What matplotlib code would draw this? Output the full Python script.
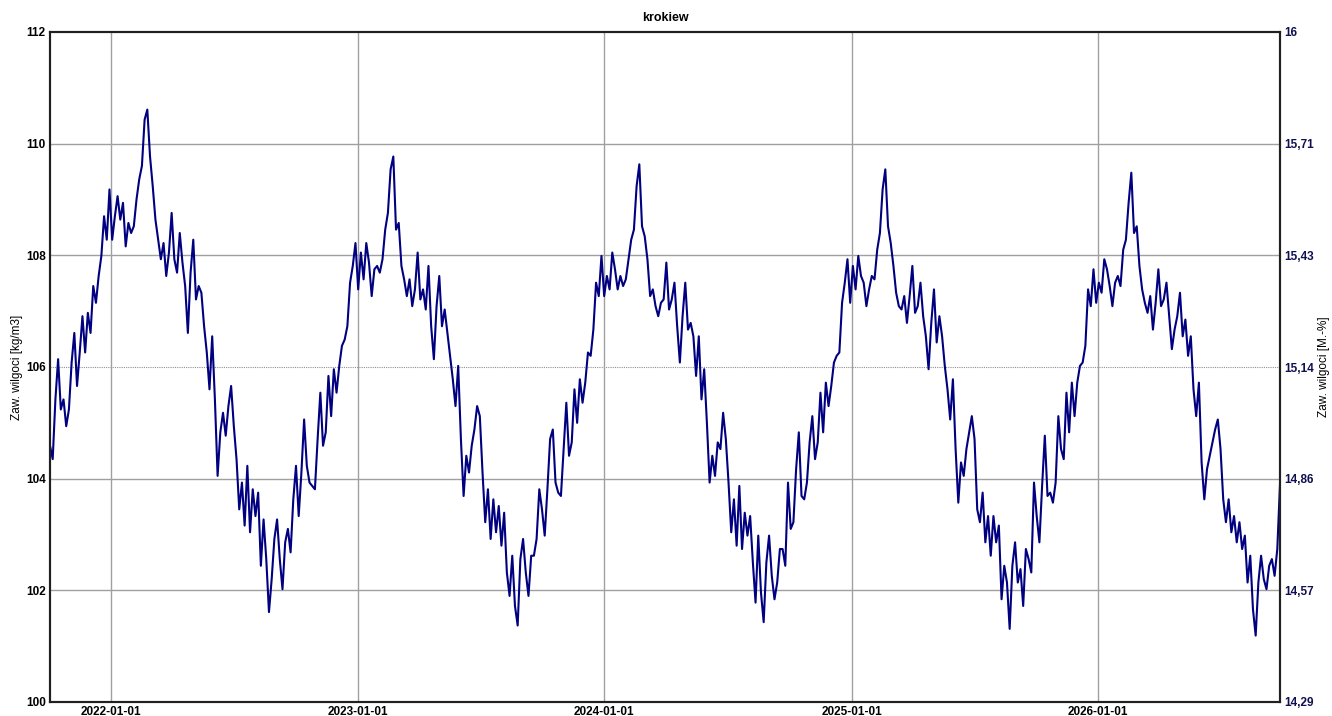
import matplotlib
matplotlib.use("Agg")
import matplotlib.pyplot as plt
import matplotlib.dates as mdates
import pandas as pd

start = "2021-10-03"
schritt = "4D"
werte = [
    104.59, 104.35, 105.42, 106.14, 105.24, 105.42, 104.94, 105.24, 106.08, 106.61,
    105.66, 106.26, 106.91, 106.26, 106.97, 106.61, 107.45, 107.15, 107.63, 107.99,
    108.70, 108.28, 109.18, 108.28, 108.70, 109.06, 108.64, 108.94, 108.16, 108.58,
    108.40, 108.52, 109.00, 109.36, 109.60, 110.43, 110.61, 109.77, 109.24, 108.64,
    108.28, 107.93, 108.22, 107.63, 108.05, 108.76, 107.93, 107.69, 108.40, 107.87,
    107.45, 106.61, 107.69, 108.28, 107.21, 107.45, 107.33, 106.73, 106.26, 105.60,
    106.55, 105.42, 104.05, 104.83, 105.18, 104.77, 105.30, 105.66, 104.94, 104.35,
    103.45, 103.93, 103.16, 104.23, 103.04, 103.81, 103.33, 103.75, 102.44, 103.27,
    102.56, 101.61, 102.20, 102.92, 103.27, 102.56, 102.02, 102.86, 103.10, 102.68,
    103.63, 104.23, 103.33, 104.11, 105.06, 104.23, 103.93,
    # 2023
    103.87, 103.81, 104.71, 105.54, 104.59, 104.83, 105.84, 105.12, 105.96, 105.54,
    106.02, 106.38, 106.49, 106.73, 107.51, 107.81, 108.22, 107.39, 108.05, 107.57,
    108.22, 107.87, 107.27, 107.75, 107.81, 107.69, 107.93, 108.46, 108.76, 109.54,
    109.77, 108.46, 108.58, 107.81, 107.57, 107.27, 107.57, 107.09, 107.39, 108.05,
    107.21, 107.39, 107.03, 107.81, 106.73, 106.14, 107.09, 107.63, 106.73, 107.03,
    106.61, 106.20, 105.78, 105.30, 106.02, 104.71, 103.69, 104.41, 104.11, 104.59,
    104.88, 105.30, 105.12, 104.11, 103.22, 103.81, 102.92, 103.63, 103.04, 103.51,
    102.80, 103.39, 102.32, 101.90, 102.62, 101.72, 101.37, 102.56, 102.92, 102.32,
    101.90, 102.62, 102.62, 102.92, 103.81, 103.45, 102.98, 103.81, 104.71, 104.88,
    103.93, 103.75,
    # 2024
    103.69, 104.53, 105.36, 104.41, 104.65, 105.60, 105.00, 105.78, 105.36, 105.72,
    106.26, 106.20, 106.67, 107.51, 107.27, 107.99, 107.27, 107.63, 107.39, 108.05,
    107.75, 107.39, 107.63, 107.45, 107.57, 107.93, 108.28, 108.46, 109.24, 109.63,
    108.52, 108.34, 107.93, 107.27, 107.39, 107.09, 106.91, 107.15, 107.21, 107.87,
    107.03, 107.21, 107.51, 106.73, 106.08, 106.91, 107.51, 106.67, 106.79, 106.55,
    105.84, 106.55, 105.42, 105.96, 105.00, 103.93, 104.41, 104.05, 104.65, 104.53,
    105.18, 104.71, 103.93, 103.04, 103.63, 102.80, 103.87, 102.74, 103.39, 102.98,
    103.33, 102.50, 101.78, 102.98, 101.96, 101.43, 102.50, 102.98, 102.26, 101.84,
    102.14, 102.74, 102.74, 102.44, 103.93, 103.10, 103.22, 104.17, 104.83, 103.69,
    103.63, 103.93, 104.65,
    # 2025
    105.12, 104.35, 104.65, 105.54, 104.83, 105.72, 105.30, 105.66, 106.08, 106.20,
    106.26, 107.15, 107.51, 107.93, 107.15, 107.81, 107.39, 107.99, 107.63, 107.51,
    107.09, 107.39, 107.63, 107.57, 108.10, 108.40, 109.18, 109.54, 108.52, 108.22,
    107.81, 107.33, 107.09, 107.03, 107.27, 106.79, 107.27, 107.81, 106.97, 107.09,
    107.51, 106.91, 106.55, 105.96, 106.79, 107.39, 106.44, 106.91, 106.55, 106.02,
    105.60, 105.06, 105.78, 104.53, 103.57, 104.29, 104.05, 104.53, 104.83, 105.12,
    104.71, 103.45, 103.22, 103.75, 102.86, 103.33, 102.62, 103.33, 102.86, 103.16,
    101.84, 102.44, 102.14, 101.31, 102.44, 102.86, 102.14, 102.38, 101.72, 102.74,
    102.56, 102.32, 103.93, 103.33, 102.86, 103.87, 104.77, 103.69, 103.75, 103.57,
    103.93, 105.12,
    # 2026
    104.53, 104.35, 105.54, 104.83, 105.72, 105.12, 105.72, 106.02, 106.08, 106.38,
    107.39, 107.09, 107.75, 107.15, 107.51, 107.33, 107.93, 107.75, 107.45, 107.09,
    107.51, 107.63, 107.45, 108.10, 108.28, 108.94, 109.48, 108.40, 108.52, 107.81,
    107.39, 107.15, 106.97, 107.27, 106.67, 107.15, 107.75, 107.09, 107.21, 107.51,
    106.91, 106.32, 106.67, 106.91, 107.33, 106.55, 106.85, 106.20, 106.55, 105.60,
    105.12, 105.72, 104.29, 103.63, 104.17, 104.41, 104.65, 104.88, 105.06, 104.53,
    103.63, 103.22, 103.63, 103.04, 103.33, 102.86, 103.22, 102.74, 102.98, 102.14,
    102.62, 101.66, 101.19, 102.14, 102.62, 102.20, 102.02, 102.44, 102.56, 102.26,
    102.74, 103.90,
]

y_ticks = [100, 102, 104, 106, 108, 110, 112]
x_ticks = ["2022-01-01", "2023-01-01", "2024-01-01", "2025-01-01", "2026-01-01"]
faktor = 7.0  # kg/m3 -> M.-%

zeit = pd.date_range(start, periods=len(werte), freq=schritt)

plt.rcParams["font.family"] = ["Liberation Sans", "DejaVu Sans"]

fig = plt.figure(figsize=(13.32, 7.16), dpi=100)
ax = fig.add_axes([50 / 1332, 14 / 716, 1230 / 1332, 670 / 716])

ax.plot(zeit, werte, color="#000080", linewidth=1.5, zorder=3)

ax.set_xlim(zeit[0], zeit[-1])
ax.set_ylim(y_ticks[0], y_ticks[-1])
ax.set_yticks(y_ticks)
ax.set_xticks(pd.to_datetime(x_ticks))
ax.xaxis.set_major_formatter(mdates.DateFormatter("%Y-%m-%d"))

# Gitter: 106 gepunktet, Rest durchgezogen
for v in y_ticks[1:-1]:
    if v == 106:
        ax.axhline(v, color="#909090", linewidth=0.8, linestyle=(0, (1, 1)), zorder=1)
    else:
        ax.axhline(v, color="#a0a0a0", linewidth=1.0, zorder=1)
for d in pd.to_datetime(x_ticks):
    ax.axvline(d, color="#a0a0a0", linewidth=1.0, zorder=1)

for s in ax.spines.values():
    s.set_linewidth(1.5)
    s.set_color("#202020")

ax.tick_params(axis="both", length=0, labelsize=8.5)
ax.tick_params(axis="x", pad=3)
ax.tick_params(axis="y", pad=3)
for lab in ax.get_xticklabels() + ax.get_yticklabels():
    lab.set_fontweight("bold")
ax.set_title("krokiew", fontsize=9, fontweight="bold", pad=8)

ax2 = ax.twinx()
ax2.set_ylim(y_ticks[0] / faktor, y_ticks[-1] / faktor)
ax2.set_yticks([v / faktor for v in y_ticks])
ax2.set_yticklabels([f"{v / faktor:.2f}".rstrip("0").rstrip(".").replace(".", ",") for v in y_ticks],
                    fontsize=8.5, fontweight="bold", color="#101050")
ax2.tick_params(axis="y", length=0, pad=3)
for s in ax2.spines.values():
    s.set_linewidth(1.5)
    s.set_color("#202020")

# Achsentitel frei positioniert wie im Original
fig.text(17 / 1332, 1 - 367 / 716, "Zaw. wilgoci [kg/m3]", rotation=90,
         ha="center", va="center", fontsize=8.5)
fig.text(1324 / 1332, 1 - 367 / 716, "Zaw. wilgoci [M.-%]", rotation=90,
         ha="center", va="center", fontsize=8.5)

fig.savefig("out.png", dpi=100)
